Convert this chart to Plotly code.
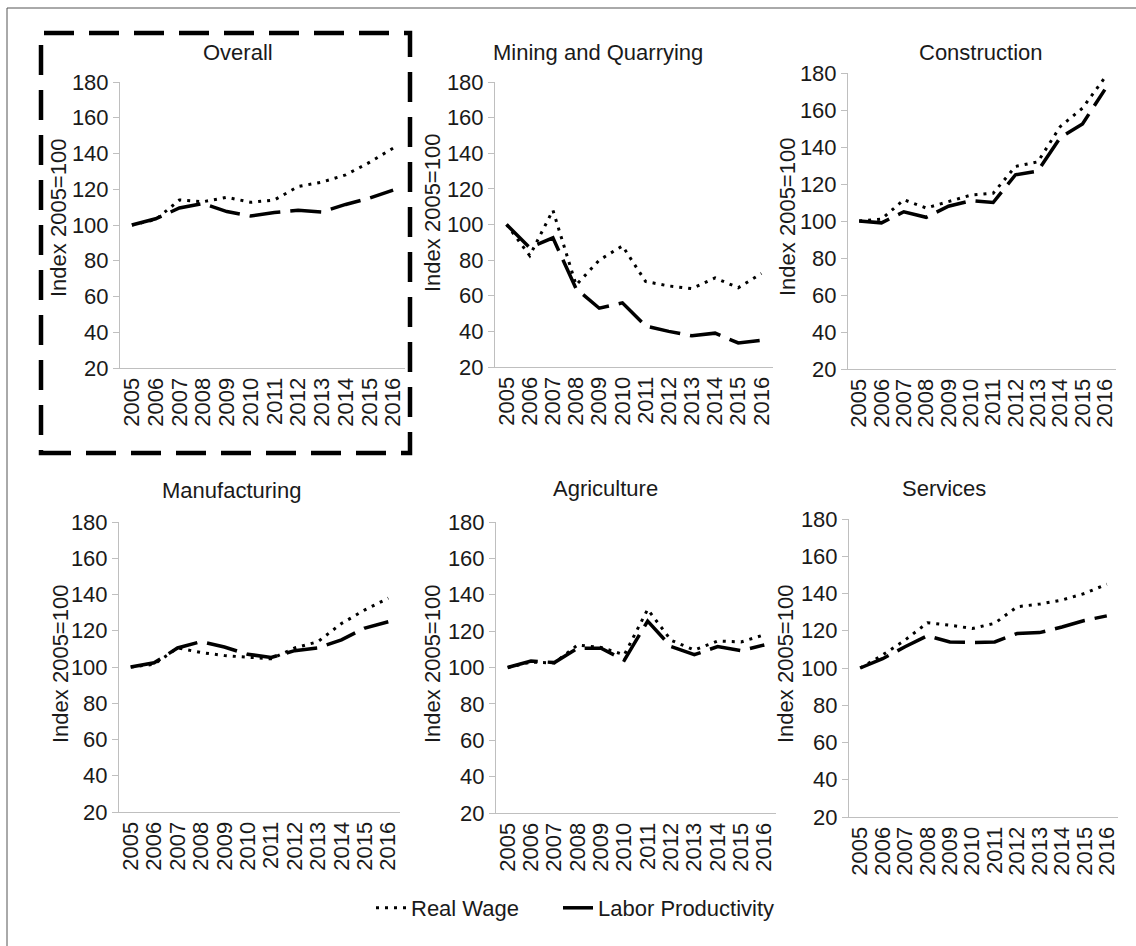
import plotly.graph_objects as go

W, H = 1136, 946

years = list(range(2005, 2017))
year_labels = [str(y) for y in years]
y_ticks = [20, 40, 60, 80, 100, 120, 140, 160, 180]

titles = ["Overall", "Mining and Quarrying", "Construction",
          "Manufacturing", "Agriculture", "Services"]
y_title = "Index 2005=100"
series_names = ["Real Wage", "Labor Productivity"]

overall_wage = [100, 103, 114, 113, 115.5, 112.7, 114, 121.5, 124, 128, 135, 143]
overall_prod = [100, 103.5, 109.5, 112, 107.5, 105, 107, 108.2, 107.3, 111.5, 115, 119.5]

mining_wage = [100, 82.5, 108, 66, 80, 88, 68, 65.5, 64, 70, 64.5, 72.5]
mining_prod = [100, 87, 92.5, 64, 53, 56, 43, 40, 37.5, 39, 33.5, 35]

construction_wage = [100, 101, 111.5, 107, 110.5, 114, 115, 129.5, 132, 151, 161, 177.5]
construction_prod = [100, 99, 105, 102, 108, 111, 110, 125, 127, 145, 152.5, 171]

manufacturing_wage = [100, 101.5, 110.5, 108, 106.3, 105.5, 104.5, 110.5, 114, 124, 131.5, 138]
manufacturing_prod = [100, 102.3, 110.5, 114, 111, 107, 105.3, 109, 110.5, 115, 121.5, 125]

agriculture_wage = [100, 103, 102.5, 112.4, 111, 107, 132, 115, 109.6, 114.6, 114, 118]
agriculture_prod = [100, 103.6, 102.7, 110.6, 110.6, 104, 125.5, 111.5, 107, 111.5, 109.3, 112.4]

services_wage = [100, 107, 115, 124.3, 123, 121.2, 124, 132.9, 134.3, 136.5, 140, 145]
services_prod = [100, 105, 111.4, 117.3, 114, 113.7, 114, 118.5, 119, 122, 125.5, 128]

wages = [overall_wage, mining_wage, construction_wage,
         manufacturing_wage, agriculture_wage, services_wage]
prods = [overall_prod, mining_prod, construction_prod,
         manufacturing_prod, agriculture_prod, services_prod]

# panel geometry in pixels: (x_left, x_right, y_top(180), y_bottom(20))
panels = [
    (120, 405, 82, 368),
    (495, 773, 82, 367),
    (848, 1116, 73, 369),
    (119, 400, 522, 812),
    (496, 776, 522, 813),
    (849, 1118, 519, 817),
]
title_pos = [(238, 53), (598, 53), (981, 53), (231, 490), (605, 489), (944, 489)]
ytitle_pos = [(59, 218), (432, 213), (787, 217), (60, 664), (432, 664), (785, 664)]

FONT = "Liberation Sans, Arial, sans-serif"
TXT = "#1a1a1a"
AX = "#bfbfbf"

def px_x(p):
    return p / W

def px_y(p):
    return 1 - p / H

legend_common = dict(orientation="h", xanchor="left", y=px_y(908), yanchor="middle",
                     font=dict(size=22, color=TXT, family=FONT),
                     bgcolor="rgba(0,0,0,0)", itemwidth=30)

fig = go.Figure()
layout = dict(
    width=W, height=H,
    margin=dict(l=0, r=0, t=0, b=0, pad=0, autoexpand=False),
    paper_bgcolor="white", plot_bgcolor="white",
    font=dict(family=FONT, size=22, color=TXT),
    showlegend=True,
    legend=dict(x=px_x(371), **legend_common),
    legend2=dict(x=px_x(558), **legend_common),
)

annotations = []
for i in range(6):
    xl, xr, yt, yb = panels[i]
    xa = "xaxis" if i == 0 else f"xaxis{i+1}"
    ya = "yaxis" if i == 0 else f"yaxis{i+1}"
    xref = "x" if i == 0 else f"x{i+1}"
    yref = "y" if i == 0 else f"y{i+1}"
    layout[xa] = dict(
        domain=[px_x(xl), px_x(xr)], anchor=yref, range=[2004.5, 2016.5],
        tickmode="array", tickvals=years, ticktext=year_labels, tickangle=-90,
        showline=True, linecolor=AX, linewidth=1, showgrid=False, zeroline=False,
        ticks="", tickfont=dict(size=22, color=TXT), fixedrange=True, automargin=False,
    )
    layout[ya] = dict(
        domain=[px_y(yb), px_y(yt)], anchor=xref, range=[20, 180],
        tickmode="array", tickvals=y_ticks,
        showline=True, linecolor=AX, linewidth=1, showgrid=False, zeroline=False,
        ticks="outside", ticklen=6, tickcolor=AX, tickwidth=1,
        tickfont=dict(size=22, color=TXT), fixedrange=True, automargin=False,
    )
    fig.add_trace(go.Scatter(
        x=years, y=wages[i], mode="lines", name=series_names[0],
        line=dict(color="black", width=3, dash="3px,6px"),
        xaxis=xref, yaxis=yref, legend="legend", legendgroup="wage", showlegend=(i == 0),
        hoverinfo="skip",
    ))
    fig.add_trace(go.Scatter(
        x=years, y=prods[i], mode="lines", name=series_names[1],
        line=dict(color="black", width=3.5, dash="31px,10px"),
        xaxis=xref, yaxis=yref, legend="legend2", legendgroup="prod", showlegend=(i == 0),
        hoverinfo="skip",
    ))
    tx, ty = title_pos[i]
    annotations.append(dict(
        text=titles[i], x=px_x(tx), y=px_y(ty), xref="paper", yref="paper",
        showarrow=False, xanchor="center", yanchor="middle",
        font=dict(size=22, color=TXT, family=FONT),
    ))
    ax_, ay_ = ytitle_pos[i]
    annotations.append(dict(
        text=y_title, x=px_x(ax_), y=px_y(ay_), xref="paper", yref="paper",
        showarrow=False, xanchor="center", yanchor="middle", textangle=-90,
        font=dict(size=22, color=TXT, family=FONT),
    ))

layout["annotations"] = annotations
layout["shapes"] = [
    # frame visible only at top and left (cropped image frame)
    dict(type="line", xref="paper", yref="paper",
         x0=px_x(7), x1=1, y0=px_y(8), y1=px_y(8),
         line=dict(color="#555555", width=1)),
    dict(type="line", xref="paper", yref="paper",
         x0=px_x(7), x1=px_x(7), y0=0, y1=px_y(8),
         line=dict(color="#555555", width=1)),
    # dashed box highlighting the Overall panel
    dict(type="rect", xref="paper", yref="paper",
         x0=px_x(41), x1=px_x(410), y0=px_y(453), y1=px_y(33),
         line=dict(color="black", width=4.5, dash="30px,15px")),
]
fig.update_layout(**layout)
fig.write_html(
    "out.html",
    config={"responsive": False, "displayModeBar": False},
    post_script="document.body.style.margin='0';document.body.style.overflow='hidden';",
)
